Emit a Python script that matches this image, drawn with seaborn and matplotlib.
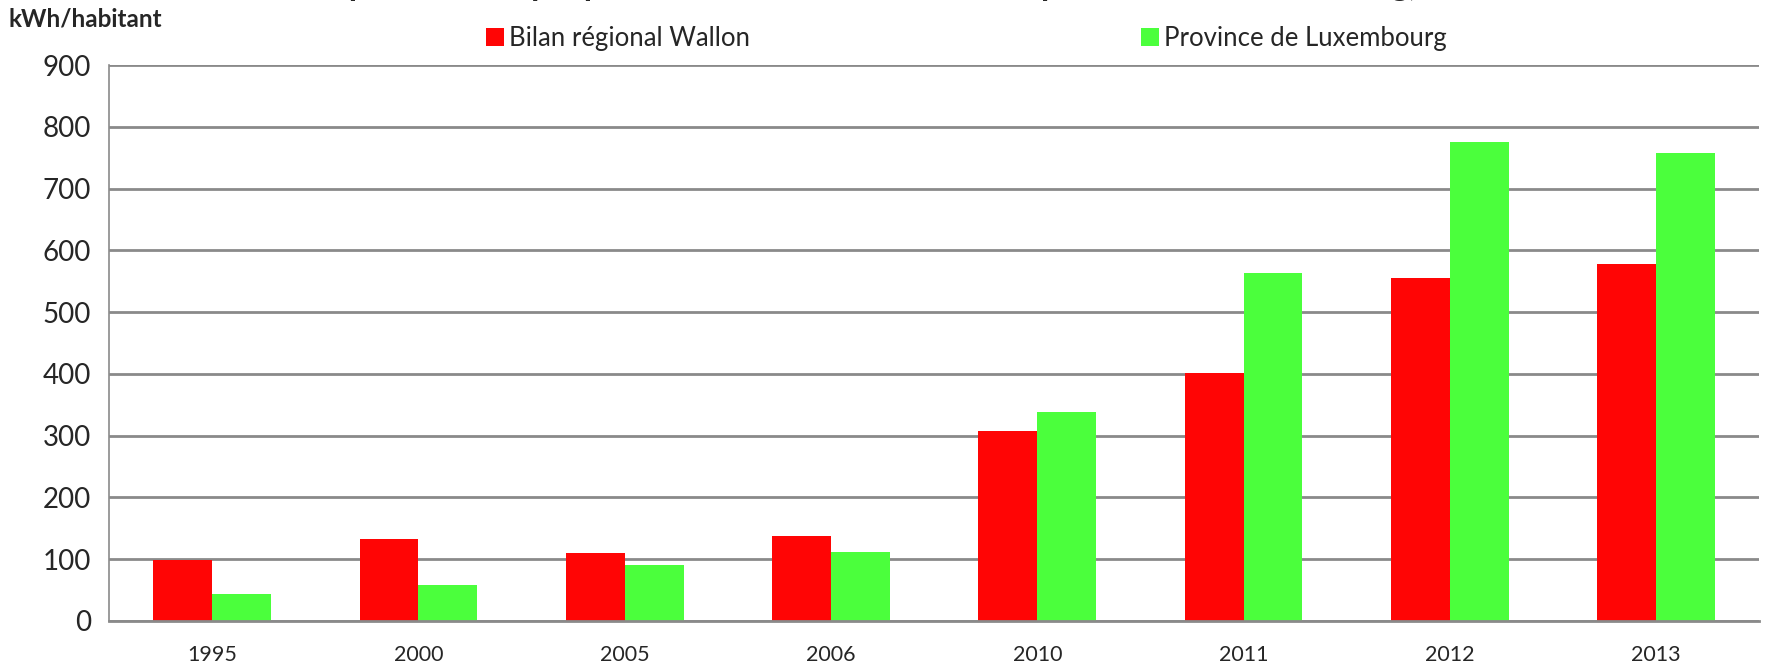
import pandas as pd
import seaborn as sns
import matplotlib.pyplot as plt
from matplotlib.patches import Patch

years = ["1995", "2000", "2005", "2006", "2010", "2011", "2012", "2013"]
wallon = [98, 133, 110, 137, 308, 401, 555, 578]
luxembourg = [44, 58, 91, 111, 338, 564, 776, 757]
series = ["Bilan régional Wallon", "Province de Luxembourg"]
colors = ["#FF0505", "#4BFF3C"]
yticks = [0, 100, 200, 300, 400, 500, 600, 700, 800, 900]

df = pd.DataFrame({
    "annee": years * 2,
    "valeur": wallon + luxembourg,
    "serie": [series[0]] * len(years) + [series[1]] * len(years),
})

sns.set_style("white")
plt.rcParams["font.family"] = ["Lato", "DejaVu Sans"]

fig = plt.figure(figsize=(17.68, 6.67), dpi=100)
ax = fig.add_axes([0.0617, 0.069, 0.9333, 0.8335])

sns.barplot(data=df, x="annee", y="valeur", hue="serie", palette=colors,
            width=0.57, saturation=1, linewidth=0, ax=ax, legend=False)

ax.set_ylim(0, 900)
ax.set_xlim(-0.5, len(years) - 0.5)
ax.set_yticks(yticks)
ax.set_yticklabels([str(v) for v in yticks], fontsize=20)
ax.yaxis.grid(True, color="#8a8a8a", linewidth=2)
ax.set_axisbelow(True)
ax.set_xlabel("")
ax.set_ylabel("")
ax.tick_params(axis="y", length=8, width=1.2, color="#8a8a8a", pad=5)
ax.tick_params(axis="x", which="major", length=0, labelsize=15.5, pad=17)
ax.set_xticks([i + 0.5 for i in range(-1, len(years))], minor=True)
ax.tick_params(axis="x", which="minor", length=8, width=1.2, color="#8a8a8a")
for s in ["top", "right"]:
    ax.spines[s].set_visible(False)
ax.spines["left"].set_color("#8a8a8a")
ax.spines["left"].set_linewidth(1.2)
ax.spines["bottom"].set_color("#8a8a8a")
ax.spines["bottom"].set_linewidth(2)

handles = [Patch(facecolor=c, edgecolor="none") for c in colors]
fig.legend(handles, series, loc="center left", bbox_to_anchor=(0.262, 0.942),
           ncol=2, frameon=False, fontsize=18.5, handlelength=0.7,
           handleheight=0.7, handletextpad=0.2, columnspacing=15.2)

fig.text(0.005, 0.972, "kWh/habitant", fontsize=17.5, fontweight="bold",
         va="center", ha="left")
fig.text(0.5, 1.006, "Production photovoltaïque par habitant en Wallonie et en province de Luxembourg, 1995-2013",
         fontsize=24, fontweight="bold", ha="center", va="baseline")

fig.savefig("out.png", dpi=100)
